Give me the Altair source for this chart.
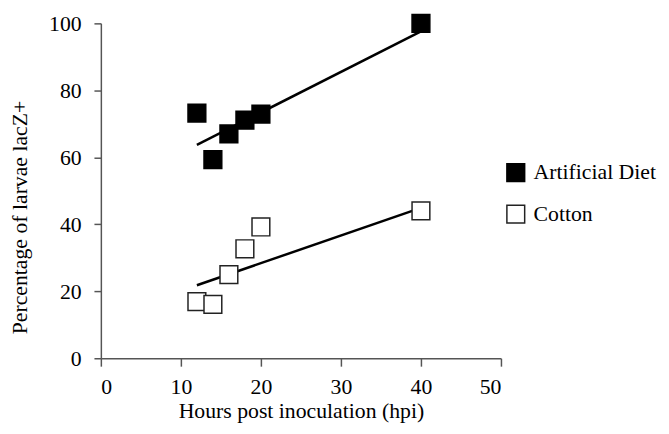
import altair as alt
import pandas as pd

hours = [12, 14, 16, 18, 20, 40]
artificial_diet = [73.2, 59.3, 67.0, 71.1, 72.9, 100.0]
cotton = [16.9, 16.1, 25.0, 32.7, 39.2, 44.0]

trend_hours = [12, 40]
artificial_diet_trend = [63.7, 97.6]
cotton_trend = [21.8, 44.9]

groups = ["Artificial Diet", "Cotton"]
x_ticks = [0, 10, 20, 30, 40, 50]
y_ticks = [0, 20, 40, 60, 80, 100]

FONT = "Liberation Serif"

pts = pd.DataFrame(
    {"hpi": hours * 2,
     "pct": artificial_diet + cotton,
     "group": [groups[0]] * len(hours) + [groups[1]] * len(hours)}
)
trend = pd.DataFrame(
    {"hpi": trend_hours * 2,
     "pct": artificial_diet_trend + cotton_trend,
     "group": [groups[0]] * 2 + [groups[1]] * 2}
)

x_enc = alt.X("hpi:Q",
              scale=alt.Scale(domain=[0, 50], nice=False),
              axis=alt.Axis(values=x_ticks, title="Hours post inoculation (hpi)",
                            tickSize=8, labelPadding=11, titleY=60,
                            titleBaseline="alphabetic"))
y_enc = alt.Y("pct:Q",
              scale=alt.Scale(domain=[0, 100], nice=False),
              axis=alt.Axis(values=y_ticks, title="Percentage of larvae lacZ+",
                            tickSize=7, labelPadding=13, titleX=-75, titleY=196,
                            titleAngle=270, titleBaseline="alphabetic", titleAlign="center"))

lines = alt.Chart(trend).mark_line(color="black", strokeWidth=2.5).encode(
    x=x_enc, y=y_enc, detail="group:N"
)

points = alt.Chart(pts).mark_point(
    shape="square", size=324, filled=True, strokeWidth=1.5, opacity=1
).encode(
    x=x_enc, y=y_enc,
    fill=alt.Fill("group:N", title=None,
                  scale=alt.Scale(domain=groups, range=["#000000", "#ffffff"]),
                  legend=alt.Legend(orient="none", legendX=409, legendY=140,
                                    symbolType="square", symbolSize=324,
                                    symbolStrokeColor="#222222", symbolStrokeWidth=1.5,
                                    labelFont=FONT, labelFontSize=22, labelColor="black",
                                    labelOffset=7, rowPadding=18, padding=0)),
    stroke=alt.Stroke("group:N",
                      scale=alt.Scale(domain=groups, range=["#000000", "#222222"]),
                      legend=None),
)

chart = alt.layer(lines, points).properties(
    width=405, height=339,
    autosize=alt.AutoSizeParams(type="none"),
    padding={"left": 94, "top": 13, "right": 162, "bottom": 66},
    background="white",
).configure_view(stroke=None).configure_axis(
    grid=False,
    domainColor="#555555", domainWidth=1.5,
    tickColor="#555555", tickWidth=1.5,
    labelFont=FONT, labelFontSize=22, labelColor="black",
    titleFont=FONT, titleFontSize=22, titleColor="black", titleFontWeight="normal",
)

chart.save("out.html", embed_options={"renderer": "svg", "actions": False})
